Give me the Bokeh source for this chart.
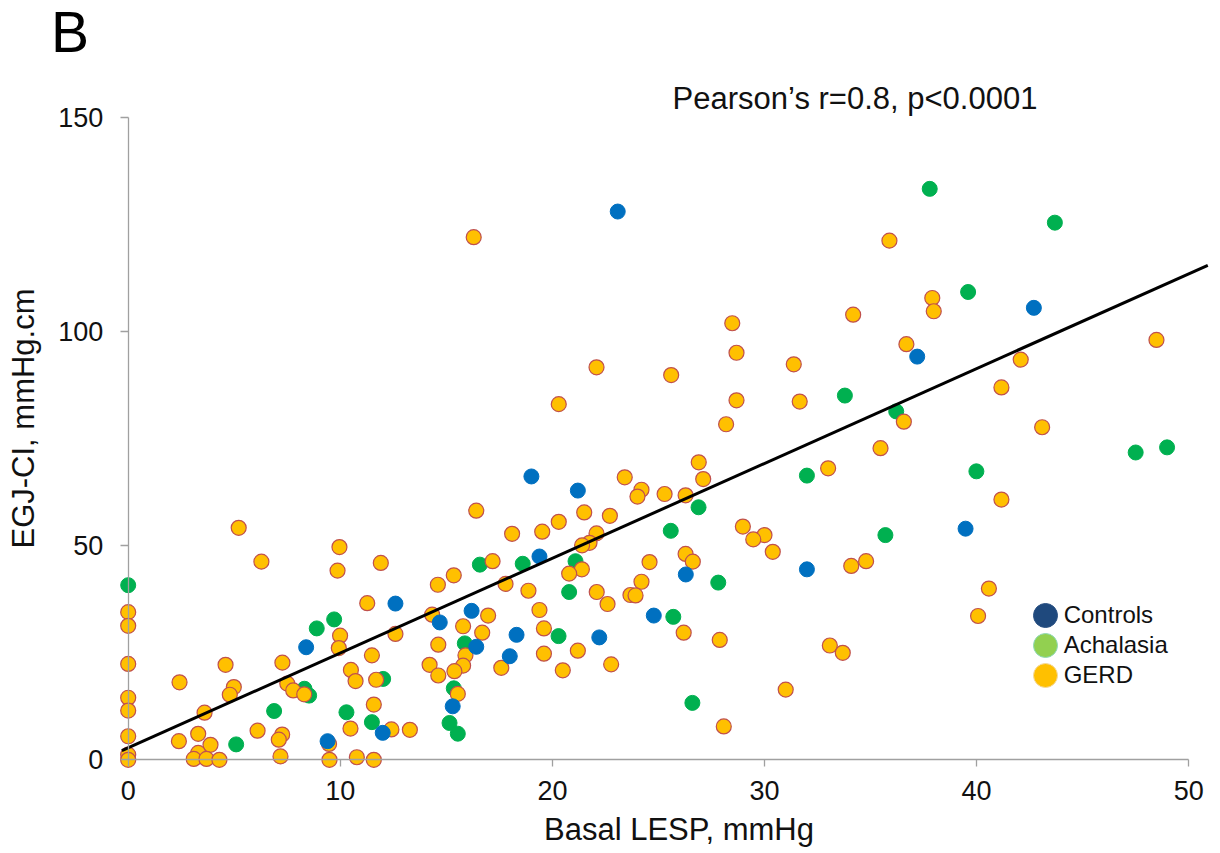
import math
from bokeh.plotting import figure
from bokeh.models import Range1d, Label, Legend, LegendItem, FixedTicker, LinearAxis
from bokeh.embed import file_html
from bokeh.resources import INLINE

# ---------------- data ----------------
controls_x = [23.08, 42.70, 37.20, 19.01, 21.20, 39.48, 19.39, 32.0, 26.29, 12.60, 16.19,
              24.78, 14.69, 18.31, 22.21, 8.39, 16.41, 17.99, 15.30, 12.0, 9.40]
controls_y = [128.1, 105.6, 94.2, 66.2, 62.9, 54.0, 47.5, 44.5, 43.3, 36.5, 34.8,
              33.7, 32.1, 29.2, 28.6, 26.3, 26.4, 24.2, 12.5, 6.3, 4.35]

achalasia_x = [37.79, 43.69, 39.60, 33.79, 36.21, 48.98, 47.50, 39.99, 32.0, 26.89, 25.58,
               35.70, 21.09, 18.60, 16.58, 0.0, 27.82, 20.79, 25.70, 9.71, 8.89, 20.29,
               15.87, 12.02, 15.35, 8.31, 8.53, 26.60, 6.88, 10.29, 11.49, 15.15, 15.54, 5.09]
achalasia_y = [133.4, 125.5, 109.3, 85.1, 81.4, 73.0, 71.8, 67.4, 66.4, 59.0, 53.5,
               52.5, 46.4, 45.8, 45.6, 40.8, 41.4, 39.2, 33.4, 32.8, 30.7, 28.9,
               27.2, 18.9, 16.7, 16.6, 15.0, 13.3, 11.4, 11.1, 8.8, 8.6, 6.1, 3.6]

gerd_x = [16.29, 35.89, 37.91, 37.98, 34.18, 28.48, 48.48, 36.69, 28.68, 42.08, 31.38,
          22.08, 25.60, 41.17, 28.68, 31.66, 20.30, 36.57, 28.19, 43.09, 35.47, 26.90,
          33.0, 23.41, 27.11, 24.20, 25.29, 26.28, 24.01, 41.17, 16.41, 21.50, 22.71,
          20.30, 28.98, 5.21, 19.52, 22.08, 18.10, 30.0, 29.47, 21.75, 21.40, 9.96,
          30.39, 26.28, 6.28, 26.62, 17.18, 24.58, 11.91, 34.79, 34.09, 9.87, 21.39,
          20.79, 15.35, 24.20, 17.79, 14.60, 40.58, 18.87, 22.09, 23.68, 23.92, 11.27,
          22.60, 19.39, 0.0, 14.33, 16.97, 40.07, 0.0, 15.79, 19.60, 16.69, 26.19,
          12.60, 9.99, 27.89, 14.62, 33.08, 9.93, 21.20, 33.69, 19.60, 11.49, 15.90,
          7.27, 0.0, 22.77, 4.59, 14.21, 15.79, 17.59, 10.50, 20.49, 15.38, 14.62,
          11.69, 10.72, 2.42, 7.50, 4.98, 31.0, 7.78, 15.54, 8.30, 4.79, 0.0, 11.58,
          0.0, 3.60, 28.08, 10.48, 12.41, 13.28, 6.10, 3.30, 7.26, 0.0, 7.10, 2.39,
          9.47, 3.88, 3.30, 0.0, 7.18, 10.78, 3.09, 3.69, 0.0, 4.30, 9.49, 11.58]
gerd_y = [122.1, 121.3, 107.9, 104.8, 104.0, 102.0, 98.1, 97.1, 95.1, 93.5, 92.4,
          91.7, 89.9, 87.0, 84.0, 83.7, 83.1, 79.0, 78.4, 77.7, 72.8, 69.5,
          68.1, 66.0, 65.6, 63.1, 62.1, 61.8, 61.5, 60.8, 58.2, 57.8, 57.0,
          55.6, 54.5, 54.2, 53.3, 52.9, 52.8, 52.5, 51.5, 50.7, 50.1, 49.7,
          48.6, 48.1, 46.3, 46.3, 46.4, 46.2, 46.0, 46.4, 45.3, 44.2, 44.5,
          43.5, 43.1, 41.6, 41.1, 40.9, 40.0, 39.5, 39.2, 38.5, 38.4, 36.6,
          36.4, 35.0, 34.5, 33.9, 33.7, 33.6, 31.3, 31.2, 30.7, 29.7, 29.7,
          29.4, 29.0, 28.0, 26.9, 26.7, 26.1, 25.5, 25.0, 24.8, 24.4, 24.4,
          22.7, 22.4, 22.3, 22.2, 22.2, 22.0, 21.5, 21.0, 20.9, 20.7, 19.7,
          18.7, 18.4, 18.1, 17.8, 17.0, 16.4, 16.2, 15.4, 15.3, 15.2, 14.5, 12.9,
          11.5, 11.0, 7.8, 7.3, 7.1, 7.0, 6.8, 6.07, 5.9, 5.5, 4.7, 4.35,
          3.7, 3.5, 1.6, 1.2, 0.8, 0.6, 0.2, 0.2, 0.0, 0.0, 0.0, 0.0]

fit_slope = 2.215
fit_intercept = 2.8
fit_x = [-0.3, 50.9]

x_ticks = [0, 10, 20, 30, 40, 50]
y_ticks = [0, 50, 100, 150]

legend_labels = ["Controls", "Achalasia", "GERD"]
panel_letter = "B"
stat_text = "Pearson\u2019s r=0.8, p<0.0001"
x_title = "Basal LESP, mmHg"
y_title = "EGJ-CI, mmHg.cm"

FONT = "Liberation Sans"
AXIS_GREY = "#a0a0a0"

# ---------------- figure (the frame fills the whole canvas) ----------------
W, H = 1212, 849
X0, XS = 127.7, 21.21     # px of x=0, px per x unit
Y0, YS = 759.3, 4.28      # px of y=0, px per y unit
x_range = Range1d(-X0 / XS, (W - X0) / XS)
y_range = Range1d((Y0 - H) / YS, Y0 / YS)

p = figure(frame_width=W, frame_height=H, x_range=x_range, y_range=y_range,
           x_axis_location=None, y_axis_location=None,
           output_backend="svg", toolbar_location=None,
           min_border=0, min_border_left=0, min_border_right=0,
           min_border_top=0, min_border_bottom=0)
p.outline_line_color = None
p.grid.visible = False
p.background_fill_color = "white"
p.border_fill_color = "white"

xaxis = LinearAxis(ticker=FixedTicker(ticks=x_ticks), bounds=(0, 50), fixed_location=0)
yaxis = LinearAxis(ticker=FixedTicker(ticks=y_ticks), bounds=(0, 150), fixed_location=0)
for ax in (xaxis, yaxis):
    ax.axis_line_color = AXIS_GREY
    ax.axis_line_width = 1.3
    ax.major_tick_line_color = AXIS_GREY
    ax.major_tick_line_width = 1.3
    ax.major_tick_in = 0
    ax.minor_tick_line_color = None
    ax.major_label_text_font = FONT
    ax.major_label_text_font_size = "27px"
    ax.major_label_text_color = "#111111"
xaxis.major_tick_out = 7
yaxis.major_tick_out = 8
xaxis.major_label_standoff = 14
yaxis.major_label_standoff = 17
p.add_layout(xaxis, "below")
p.add_layout(yaxis, "left")

# data points (green, orange, blue drawing order)
p.scatter(achalasia_x, achalasia_y, size=15, fill_color="#00B050", line_color="#00B050", line_width=1)
p.scatter(gerd_x, gerd_y, size=15, fill_color="#FFC000", line_color="#C0504D", line_width=1.2)
p.scatter(controls_x, controls_y, size=15, fill_color="#0070C0", line_color="#0070C0", line_width=1)

# regression line
p.line(fit_x, [fit_intercept + fit_slope * v for v in fit_x], line_color="black", line_width=3)

# legend proxies (not plotted: NaN position, only their legend swatch is drawn)
nan = [float("nan")]
proxy_c = p.ellipse(x=nan, y=nan, width=24, height=24, width_units="screen", height_units="screen",
                    fill_color="#1F497D", line_color="#2a5183", line_width=1)
proxy_a = p.ellipse(x=nan, y=nan, width=24, height=24, width_units="screen", height_units="screen",
                    fill_color="#92D050", line_color="#8fd9b8", line_width=1)
proxy_g = p.ellipse(x=nan, y=nan, width=24, height=24, width_units="screen", height_units="screen",
                    fill_color="#FFC000", line_color="#f3d9a0", line_width=1)

legend = Legend(items=[LegendItem(label=legend_labels[0], renderers=[proxy_c]),
                       LegendItem(label=legend_labels[1], renderers=[proxy_a]),
                       LegendItem(label=legend_labels[2], renderers=[proxy_g])],
                location=(1029.7, H - 689.5), glyph_width=30, glyph_height=30,
                label_height=30, spacing=0, label_standoff=4, padding=0, margin=0,
                border_line_color=None, background_fill_alpha=0,
                label_text_font=FONT, label_text_font_size="24px",
                label_text_color="#111111")
p.add_layout(legend)

# texts (screen units measured from the canvas bottom-left)
p.add_layout(Label(x=50.5, y=H - 31, x_units="screen", y_units="screen", text=panel_letter,
                   text_font=FONT, text_font_size="57px", text_color="#000000",
                   text_align="left", text_baseline="alphabetic"))
p.add_layout(Label(x=854.5, y=H - 98, x_units="screen", y_units="screen", text=stat_text,
                   text_font=FONT, text_font_size="31px", text_color="#111111",
                   text_align="center", text_baseline="alphabetic"))
p.add_layout(Label(x=678.5, y=H - 829, x_units="screen", y_units="screen", text=x_title,
                   text_font=FONT, text_font_size="31px", text_color="#111111",
                   text_align="center", text_baseline="alphabetic"))
p.add_layout(Label(x=23, y=H - 418, x_units="screen", y_units="screen", text=y_title,
                   angle=math.pi / 2,
                   text_font=FONT, text_font_size="31px", text_color="#111111",
                   text_align="center", text_baseline="alphabetic"))

open("out.html", "w").write(file_html(p, INLINE))
